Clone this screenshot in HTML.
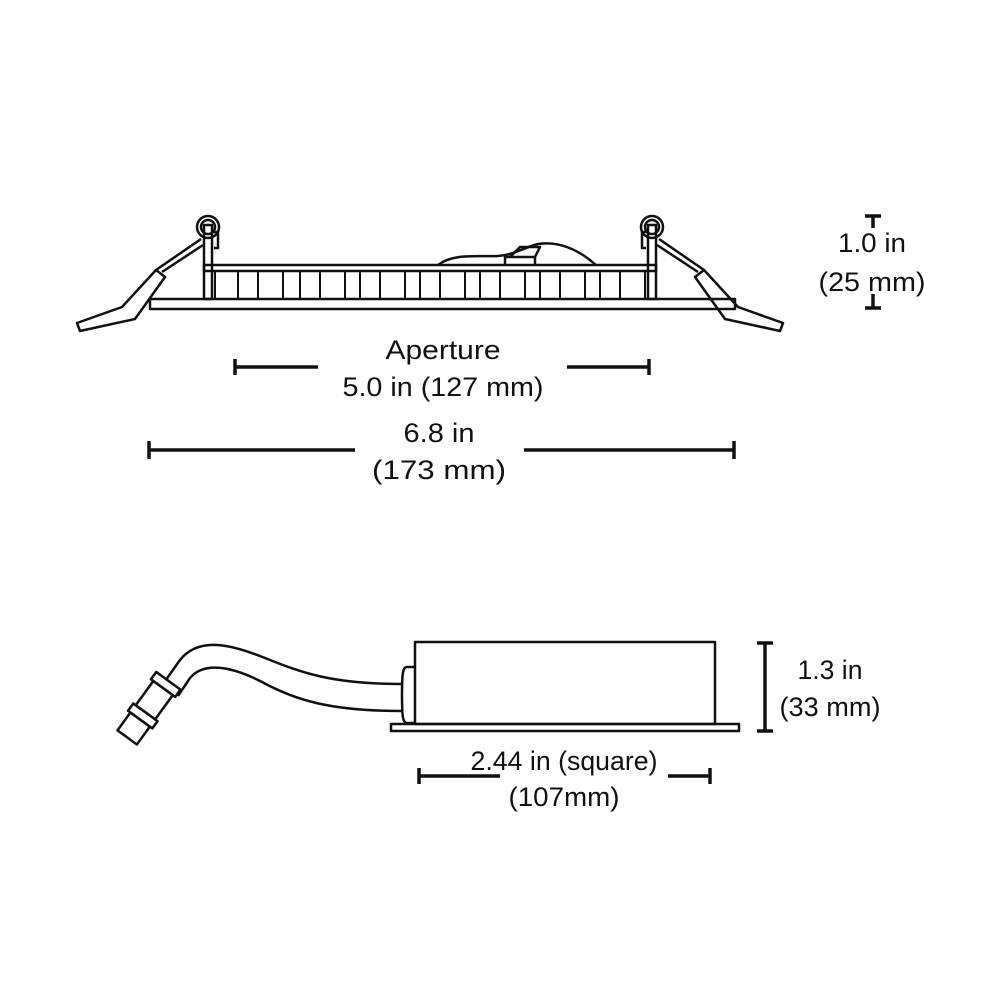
<!DOCTYPE html>
<html><head><style>
body{margin:0;background:#fff}
svg{display:block}
text{font-family:"Liberation Sans",sans-serif;font-size:27px;fill:#111;text-anchor:middle}
</style></head><body>
<svg width="1000" height="1000" viewBox="0 0 1000 1000">
<g fill="none" stroke="#111" stroke-width="2.5" stroke-linejoin="round">
<!-- top fixture -->
<rect x="150" y="299" width="585" height="10"/>
<rect x="204" y="265" width="452" height="6"/>
<g stroke-width="2">
<line x1="215" y1="271" x2="215" y2="299"/>
<path d="M238 271V299M258 271V299M283 271V299M300 271V299M320 271V299M345 271V299M360 271V299M380 271V299M405 271V299M420 271V299M440 271V299M465 271V299M480 271V299M500 271V299M525 271V299M540 271V299M560 271V299M585 271V299M600 271V299M620 271V299M645 271V299"/>
</g>
<rect x="204" y="225" width="8" height="74"/>
<rect x="648" y="225" width="8" height="74"/>
<circle cx="208" cy="227" r="11"/><circle cx="208" cy="227" r="7"/>
<circle cx="652" cy="227" r="11"/><circle cx="652" cy="227" r="7"/>
<path d="M213 232h5v16h-4"/><path d="M647 232h-5v16h4"/>
<path d="M438 265c15-12 40-8 60-9c15-1 25-8 40-12c20-3 40 5 58 21"/>
<path d="M505 265v-8h30v8M510 257l10-10h20l-5 10"/>
<path d="M203 245L162 272M201 239L156 270"/>
<path d="M156 270l9 7l-30 42l-55 12l-3-8l45-16z"/>
<path d="M657 245L698 272M659 239L704 270"/>
<path d="M704 270l-9 7l30 42l55 12l3-8l-45-16z"/>
<!-- bottom driver -->
<rect x="415" y="642" width="300" height="82"/>
<rect x="391" y="724" width="348" height="7"/>
<path d="M415 667h-8c-4 0-5 5-5 28s1 28 5 28h8"/>
<path d="M402 684C330 684 300 672 265 658C235 646 200 635 180 660C175 667 170 674 166 680"/>
<path d="M402 711C330 711 295 700 262 682C235 668 205 660 190 678C186 684 182 690 178 696"/>
<g transform="translate(166,684) rotate(36)">
<rect x="-15" y="-4" width="30" height="9"/>
<rect x="-12" y="5" width="24" height="30"/>
<rect x="-15" y="35" width="30" height="9"/>
<rect x="-12" y="44" width="24" height="22"/>
</g>
</g>
<!-- dimension lines -->
<g stroke="#111" stroke-width="3.5" fill="none">
<path d="M234 367h84M567 367h83M235 359v16M649 359v16"/>
<path d="M148 450h207M524 450h211M149 441v18M734 441v18"/>
<path d="M865 216h16M873 216v12M865 308h16M873 308v-14"/>
<path d="M757 643h16M765 643v88M757 731h16"/>
<path d="M418 776h82M668 776h43M419 768v16M710 768v16"/>
</g>
<g lengthAdjust="spacingAndGlyphs">
<text x="443" y="359" textLength="115" lengthAdjust="spacingAndGlyphs">Aperture</text>
<text x="443" y="396" textLength="201" lengthAdjust="spacingAndGlyphs">5.0 in (127 mm)</text>
<text x="439" y="442" textLength="71" lengthAdjust="spacingAndGlyphs">6.8 in</text>
<text x="439" y="479" textLength="134" lengthAdjust="spacingAndGlyphs">(173 mm)</text>
<text x="872" y="252" textLength="68" lengthAdjust="spacingAndGlyphs">1.0 in</text>
<text x="872" y="291" textLength="107" lengthAdjust="spacingAndGlyphs">(25 mm)</text>
<text x="830" y="679" textLength="65" lengthAdjust="spacingAndGlyphs">1.3 in</text>
<text x="830" y="716" textLength="101" lengthAdjust="spacingAndGlyphs">(33 mm)</text>
<text x="564" y="770" textLength="187" lengthAdjust="spacingAndGlyphs">2.44 in (square)</text>
<text x="564" y="806" textLength="111" lengthAdjust="spacingAndGlyphs">(107mm)</text>
</g>
</svg>
</body></html>
